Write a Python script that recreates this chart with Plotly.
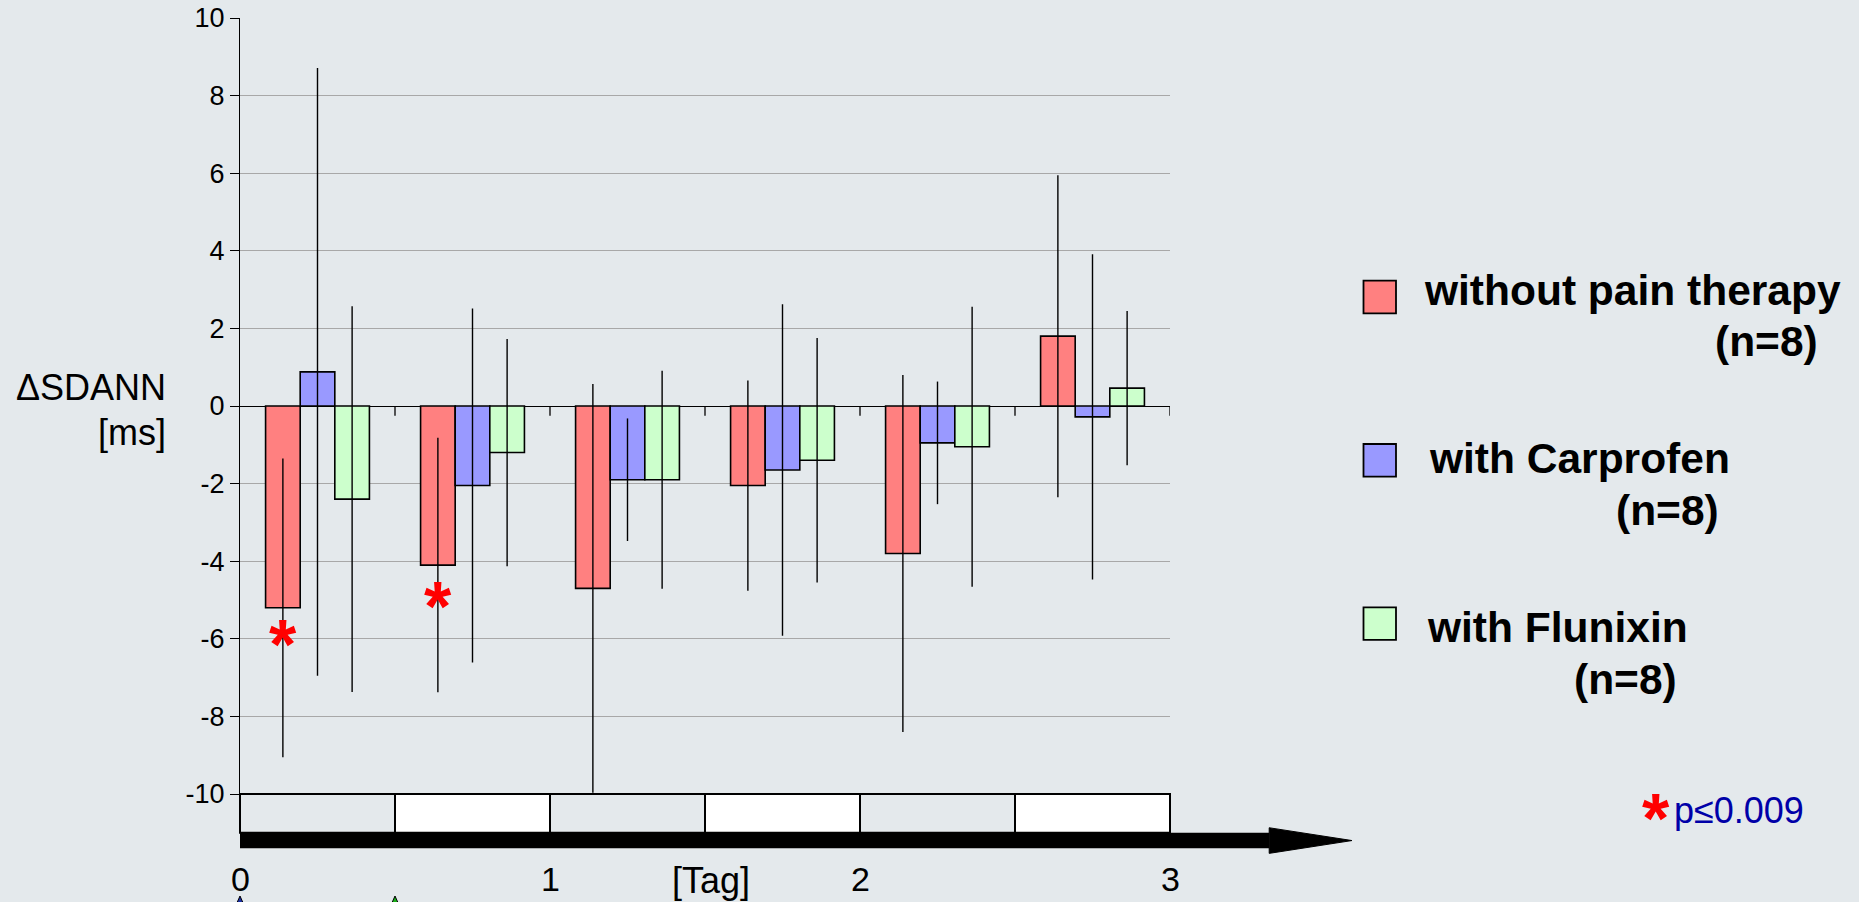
import plotly.graph_objects as go

# ---- data -------------------------------------------------------------
half_day_centers = [0.25, 0.75, 1.25, 1.75, 2.25, 2.75]   # [Tag]
series_names = ["without pain therapy", "with Carprofen", "with Flunixin"]

without_mean = [-5.2, -4.1, -4.7, -2.05, -3.8, 1.8]
without_sd = [3.85, 3.28, 5.27, 2.71, 4.6, 4.15]

carprofen_mean = [0.88, -2.05, -1.9, -1.65, -0.95, -0.28]
carprofen_sd = [7.83, 4.56, 1.58, 4.27, 1.58, 4.19]

flunixin_mean = [-2.4, -1.2, -1.9, -1.4, -1.05, 0.46]
flunixin_sd = [4.97, 2.93, 2.81, 3.15, 3.61, 1.99]

# significant differences (p <= 0.009) for the untreated group
star_groups = [0, 1]
star_y = [-5.77, -4.79]

y_ticks = [-10, -8, -6, -4, -2, 0, 2, 4, 6, 8, 10]
day_ticks = [0, 1, 2, 3]
n_label = "(n=8)"

# ---- style ------------------------------------------------------------
W, H = 1859, 902
PL, PR, PT, PB = 240, 1170, 18, 794          # plot area in pixels
BG = "#E4E9EC"
FONT = "Liberation Sans, Arial, sans-serif"
fills = ["#FF8080", "#9999FF", "#CCFFCC"]
X_RANGE = [0, 3]
Y_RANGE = [-10, 10]
BARGAP = 0.33


def px_x(px):
    return (px - PL) / (PR - PL)


def px_y(py):
    return (PB - py) / (PB - PT)


def day_to_paper(d):
    return (d - X_RANGE[0]) / (X_RANGE[1] - X_RANGE[0])


def val_to_paper(v):
    return (v - Y_RANGE[0]) / (Y_RANGE[1] - Y_RANGE[0])


fig = go.Figure()
for name, mean, sd, col in zip(series_names,
                               [without_mean, carprofen_mean, flunixin_mean],
                               [without_sd, carprofen_sd, flunixin_sd],
                               fills):
    fig.add_trace(go.Bar(
        x=half_day_centers, y=mean, name=name,
        marker=dict(color=col, line=dict(color="black", width=1.6)),
        error_y=dict(type="data", array=sd, symmetric=True,
                     color="black", thickness=1.4, width=0),
        showlegend=False,
    ))

shapes = []
# small ticks hanging from the zero line at each half-day boundary
for k in range(1, 7):
    shapes.append(dict(type="line", xref="x", yref="y", x0=k * 0.5, x1=k * 0.5,
                       y0=0, y1=-0.25, line=dict(color="black", width=1.3)))

# day/night strip below the plot
strip_top, strip_bot = -10.0, -11.0
for k in range(6):
    shapes.append(dict(type="rect", xref="paper", yref="paper",
                       x0=day_to_paper(k * 0.5), x1=day_to_paper((k + 1) * 0.5),
                       y0=val_to_paper(strip_bot), y1=val_to_paper(strip_top),
                       fillcolor="white" if k % 2 else "rgba(0,0,0,0)",
                       line=dict(color="black", width=2)))

# time arrow
shaft_end, tip = 3.32, 3.587
shapes.append(dict(type="rect", xref="paper", yref="paper",
                   x0=day_to_paper(0), x1=day_to_paper(shaft_end),
                   y0=val_to_paper(-11.4), y1=val_to_paper(-11.0),
                   fillcolor="black", line=dict(width=0)))
hx0, hx1 = day_to_paper(shaft_end), day_to_paper(tip)
shapes.append(dict(type="path", xref="paper", yref="paper",
                   path=f"M{hx0},{val_to_paper(-10.87)} L{hx1},{val_to_paper(-11.2)} "
                        f"L{hx0},{val_to_paper(-11.53)} Z",
                   fillcolor="black", line=dict(color="black", width=1)))

# treatment markers at the bottom edge
for d, col in [(0.0, "#1a2fa8"), (0.5, "#19b019")]:
    cx = day_to_paper(d)
    hw = 8 / (PR - PL)
    shapes.append(dict(type="path", xref="paper", yref="paper",
                       path=f"M{cx},{px_y(896)} L{cx + hw},{px_y(914)} L{cx - hw},{px_y(914)} Z",
                       fillcolor=col, line=dict(color="black", width=1)))

# legend boxes
legend_top = [280.7, 444.0, 607.3]
for top, col in zip(legend_top, fills):
    shapes.append(dict(type="rect", xref="paper", yref="paper",
                       x0=px_x(1363.5), x1=px_x(1396), y0=px_y(top + 32.6), y1=px_y(top),
                       fillcolor=col, line=dict(color="black", width=1.8)))

annotations = []
# day labels
for d in day_ticks:
    annotations.append(dict(x=d, y=px_y(879), xref="x", yref="paper", text=str(d),
                            showarrow=False, xanchor="center", yanchor="middle",
                            font=dict(family=FONT, size=34, color="black")))
annotations.append(dict(x=1.52, y=px_y(880), xref="x", yref="paper",
                        text="[Tag]", showarrow=False, xanchor="center", yanchor="middle",
                        font=dict(family=FONT, size=36, color="black")))

# y axis title
annotations.append(dict(x=px_x(168), y=px_y(387), xref="paper", yref="paper",
                        text="\u0394SDANN", showarrow=False, xanchor="right", yanchor="middle",
                        font=dict(family=FONT, size=36, color="black")))
annotations.append(dict(x=px_x(168), y=px_y(432), xref="paper", yref="paper",
                        text="[ms]", showarrow=False, xanchor="right", yanchor="middle",
                        font=dict(family=FONT, size=36, color="black")))

# significance stars on the bars
group_w = 0.5 * (1 - BARGAP)
bar_w = group_w / 3
for g, yv in zip(star_groups, star_y):
    annotations.append(dict(x=half_day_centers[g] - bar_w, y=yv, xref="x", yref="y",
                            text="<b>*</b>", showarrow=False, xanchor="center",
                            yanchor="middle", yshift=-15,
                            font=dict(family=FONT, size=70, color="red")))

# legend text
line1_left = [1421.5, 1427.0, 1425.0]
line1_mid = [290.3, 458.6, 627.0]
line2_right = [1819.5, 1720.5, 1679.0]
line2_mid = [342.0, 510.3, 679.0]
for name, x1, y1, x2, y2 in zip(series_names, line1_left, line1_mid, line2_right, line2_mid):
    annotations.append(dict(x=px_x(x1), y=px_y(y1), xref="paper", yref="paper",
                            text=f"<b>{name}</b>", showarrow=False,
                            xanchor="left", yanchor="middle",
                            font=dict(family=FONT, size=42.5, color="black")))
    annotations.append(dict(x=px_x(x2), y=px_y(y2), xref="paper", yref="paper",
                            text=f"<b>{n_label}</b>", showarrow=False,
                            xanchor="right", yanchor="middle",
                            font=dict(family=FONT, size=42.5, color="black")))

# p-value note
annotations.append(dict(x=px_x(1655.5), y=px_y(804), xref="paper", yref="paper",
                        text="<b>*</b>", showarrow=False, xanchor="center", yanchor="middle",
                        yshift=-15, font=dict(family=FONT, size=70, color="red")))
annotations.append(dict(x=px_x(1671.5), y=px_y(811), xref="paper", yref="paper",
                        text="p\u22640.009", showarrow=False, xanchor="left", yanchor="middle",
                        font=dict(family=FONT, size=36, color="#0000A8")))

fig.update_layout(
    width=W, height=H,
    margin=dict(l=PL, r=W - PR, t=PT, b=H - PB, pad=0, autoexpand=False),
    paper_bgcolor=BG, plot_bgcolor=BG,
    barmode="group", bargap=BARGAP, bargroupgap=0,
    xaxis=dict(range=X_RANGE, showgrid=False, zeroline=False, showline=False,
               showticklabels=False, ticks="", automargin=False),
    yaxis=dict(range=Y_RANGE, tickvals=y_ticks, ticktext=[str(v) for v in y_ticks],
               ticks="outside", ticklen=9, tickwidth=1.3, tickcolor="black",
               showline=True, linecolor="black", linewidth=1.3,
               showgrid=True, gridcolor="#A8A8A8", gridwidth=1.3,
               zeroline=True, zerolinecolor="black", zerolinewidth=1.3,
               automargin=False,
               tickfont=dict(family=FONT, size=27, color="black")),
    shapes=shapes, annotations=annotations,
    font=dict(family=FONT),
)

fig.write_html("out.html")
